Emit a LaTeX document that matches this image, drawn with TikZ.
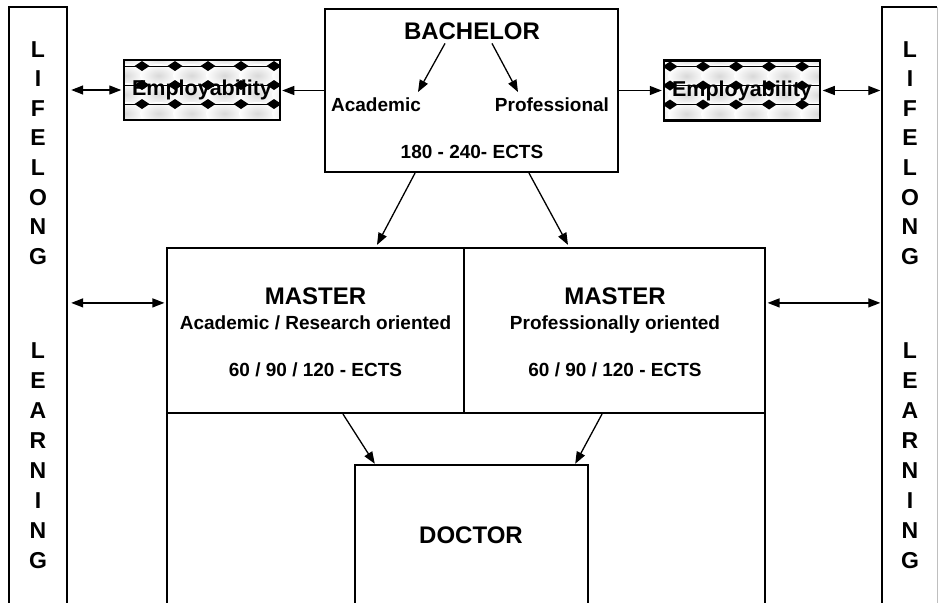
\documentclass[tikz,border=0pt]{standalone}
\usepackage{fontspec}
\setmainfont{Liberation Sans}
\usetikzlibrary{arrows.meta,calc}
\begin{document}
\begin{tikzpicture}[x=1pt,y=-1pt,
  frame/.style={draw, line width=2.2pt, inner sep=0pt},
  area/.style={inner sep=0pt},
  side/.style={line width=2.2pt},
  label/.style={font=\bfseries\fontsize{19}{22}\selectfont, inner sep=0pt, anchor=base},
  title/.style={font=\bfseries\fontsize{24}{28}\selectfont, inner sep=0pt, anchor=base},
  letter/.style={font=\bfseries\fontsize{23}{28}\selectfont, inner sep=0pt, anchor=base},
  arrowtip/.tip={Triangle[length=12pt,width=9pt]},
  link/.style={line width=1.3pt, -arrowtip},
  twoway/.style={line width=1.3pt, arrowtip-arrowtip},
  % box filled with rows of shaded ovals and black diamonds; #1 = offset of the first diamond
  employ/.style={draw, line width=2.5pt, inner sep=0pt,
    minimum width=156pt, minimum height=60pt,
    font=\bfseries\fontsize{21.5}{24}\selectfont,
    path picture={
      \fill[black] (path picture bounding box.south west)
        rectangle (path picture bounding box.north east);
      \foreach \k in {0,...,6}
        \foreach \j in {-1,0,1,2}
          \shade[inner color=gray!30, outer color=white]
            ($(path picture bounding box.north west)+(#1+16.5+33*\k-33,15.5+19*\j)$)
            ellipse (18.5 and 11.5);
      \foreach \j in {0,1,2}
        \draw[line width=0.6pt]
          ($(path picture bounding box.north west)+(0,6+19*\j)$)
          -- ++(160,0);
      \foreach \k in {0,...,6}
        \foreach \j in {0,1,2}
          \fill[black]
            ($(path picture bounding box.north west)+(#1+33*\k-33,6+19*\j)$)
            +(-7.5,0) -- +(0,-5) -- +(7.5,0) -- +(0,5) -- cycle;
    }},
]
\useasboundingbox (0,0) rectangle (938,603);

% lifelong learning columns (open at the bottom)
\node[area, minimum width=58pt, minimum height=600pt] (lifeL) at (38,307) {};
\draw[side] (lifeL.south west) -- (lifeL.north west) -- (lifeL.north east) -- (lifeL.south east);
\node[area, minimum width=55pt, minimum height=600pt] (lifeR) at (909.5,307) {};
\draw[side] (lifeR.south west) -- (lifeR.north west) -- (lifeR.north east);
\draw[gray!50, line width=0.8pt] (lifeR.north east) -- (lifeR.south east);

\foreach \c [count=\i] in {L,I,F,E,L,O,N,G} {
  \node[letter] (lifeLa\i) at (38, 57+29.6*\i-29.6) {\c};
  \node[letter] (lifeRa\i) at (910, 57+29.6*\i-29.6) {\c};
}
\foreach \c [count=\i] in {L,E,A,R,N,I,N,G} {
  \node[letter] (lifeLb\i) at (38, 358+30*\i-30) {\c};
  \node[letter] (lifeRb\i) at (910, 358+30*\i-30) {\c};
}

% bachelor
\node[frame, minimum width=293pt, minimum height=163pt] (bach) at (471.5,90.5) {};
\node[title] (bachT) at (472,39) {BACHELOR};
\node[label] (bachA) at (376,111) {Academic};
\node[label] (bachP) at (552,111) {Professional};
\node[label] (bachE) at (472,158) {180 - 240- ECTS};
\draw[link] ($(bachT.south)+(-27,4)$) -- ($(bachA.north)+(42,-5)$);
\draw[link] ($(bachT.south)+(20,4)$) -- ($(bachP.north)+(-34,-5)$);

% employability
\node[employ=18] (emp1) at (202,90) {Employability};
\node[employ=6] (emp2) at (742,90.5) {Employability};

% masters
\node[area, minimum width=598pt, minimum height=359pt] (studies) at (466,427.5) {};
\draw[side] (studies.north west) -- (studies.south west);
\draw[side] (studies.north east) -- (studies.south east);
\node[frame, minimum width=297pt, minimum height=165pt] (mA) at (315.5,330.5) {};
\node[frame, minimum width=301pt, minimum height=165pt] (mP) at (614.5,330.5) {};
\node[title] (mAT) at (315.5,304) {MASTER};
\node[label] (mAS) at (315.5,329) {Academic / Research oriented};
\node[label] (mAE) at (315.5,376) {60 / 90 / 120 - ECTS};
\node[title] (mPT) at (615,304) {MASTER};
\node[label] (mPS) at (615,329) {Professionally oriented};
\node[label] (mPE) at (615,376) {60 / 90 / 120 - ECTS};

% doctor
\node[area, minimum width=233pt, minimum height=142pt] (doc) at (471.5,536) {};
\draw[side] (doc.south west) -- (doc.north west) -- (doc.north east) -- (doc.south east);
\node[title] (docT) at (471,543) {DOCTOR};

% connectors
\draw[twoway, shorten <=4pt, shorten >=1.5pt] (lifeL.east |- emp1.west) -- (emp1.west);
\draw[link, shorten >=1pt] (bach.west) -- (bach.west -| emp1.east);
\draw[link, shorten >=1pt] (bach.east) -- (bach.east -| emp2.west);
\draw[twoway, shorten <=1.5pt, shorten >=1.5pt] (emp2.east) -- (emp2.east -| lifeR.west);

\coordinate (rowA) at ($(mA.north west)+(0,56)$);
\coordinate (rowP) at ($(mP.north east)+(0,56)$);
\draw[twoway, shorten <=4pt, shorten >=1.5pt] (lifeL.east |- rowA) -- (rowA);
\draw[twoway, shorten <=1.5pt, shorten >=1.5pt] (rowP) -- (lifeR.west |- rowP);

\draw[link] ($(bach.south)+(-56.5,0)$) -- ($(mA.north)+(61.5,-2)$);
\draw[link] ($(bach.south)+(57.5,0)$) -- ($(mP.north)+(-46.5,-2)$);
\draw[link] ($(mA.south)+(27.5,0)$) -- ($(doc.north west)+(20,-1)$);
\draw[link] ($(mP.south)+(-12.5,0)$) -- ($(doc.north east)+(-13,-1)$);
\end{tikzpicture}
\end{document}
